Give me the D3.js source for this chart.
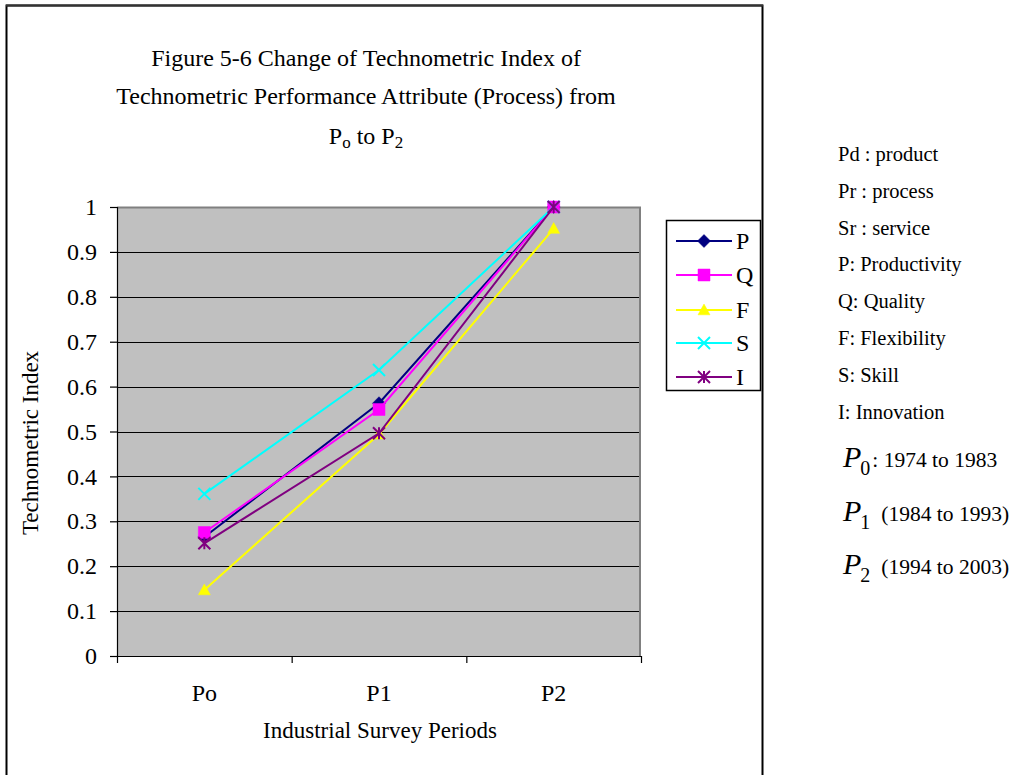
<!DOCTYPE html>
<html>
<head>
<meta charset="utf-8">
<script src="https://cdn.jsdelivr.net/npm/d3@7"></script>
<style>
  html, body { margin: 0; padding: 0; background: #fff; }
  svg { display: block; }
  text { font-family: "Liberation Serif", "DejaVu Serif", serif; fill: #000; }
</style>
</head>
<body>
<svg id="chart" width="1018" height="775"></svg>
<script>
// Survey periods and technometric index per attribute
const periods = ["Po", "P1", "P2"];
const productivity = [0.265, 0.563, 1.0];
const quality      = [0.275, 0.549, 1.0];
const flexibility  = [0.147, 0.494, 0.952];
const skill        = [0.361, 0.637, 1.0];
const innovation   = [0.251, 0.496, 1.0];
const yTicks = [0, 0.1, 0.2, 0.3, 0.4, 0.5, 0.6, 0.7, 0.8, 0.9, 1];

const series = [
  { key: "P", values: productivity, color: "#000080", marker: "diamond" },
  { key: "Q", values: quality,      color: "#ff00ff", marker: "square" },
  { key: "F", values: flexibility,  color: "#ffff00", marker: "triangle" },
  { key: "S", values: skill,        color: "#00ffff", marker: "cross" },
  { key: "I", values: innovation,   color: "#800080", marker: "star" }
];

const notes = ["Pd : product", "Pr : process", "Sr : service", "P: Productivity",
               "Q: Quality", "F: Flexibility", "S: Skill", "I: Innovation"];
const periodNotes = [
  { sub: "0", text: ": 1974 to 1983", gap: 2 },
  { sub: "1", text: "(1984 to 1993)", gap: 11 },
  { sub: "2", text: "(1994 to 2003)", gap: 11 }
];

const svg = d3.select("#chart");

// Outer frame of the chart object
svg.append("path")
  .attr("d", "M6.5,780 V5.5 H762.5 V780")
  .attr("fill", "none").attr("stroke", "#000").attr("stroke-width", 2);
svg.append("line").attr("x1", 6).attr("x2", 763).attr("y1", 5.5).attr("y2", 5.5)
  .attr("stroke", "#333").attr("stroke-width", 2);

const plot = { left: 117, right: 641, top: 207, bottom: 656 };

const x = d3.scaleBand().domain(periods).range([plot.left, plot.right]).paddingInner(0).paddingOuter(0);
const y = d3.scaleLinear().domain([0, 1]).range([plot.bottom, plot.top]);

// Plot background
svg.append("rect")
  .attr("x", plot.left).attr("y", plot.top)
  .attr("width", plot.right - plot.left).attr("height", plot.bottom - plot.top)
  .attr("fill", "#c0c0c0");
svg.append("path")
  .attr("d", `M${plot.left},${plot.top + 0.5} H${plot.right - 1} V${plot.bottom}`)
  .attr("fill", "none").attr("stroke", "#808080").attr("stroke-width", 2);

// Horizontal gridlines
svg.append("g").selectAll("line")
  .data(yTicks.filter(t => t > 0 && t < 1))
  .join("line")
  .attr("x1", plot.left).attr("x2", plot.right - 2)
  .attr("y1", d => Math.round(y(d)) + 0.5).attr("y2", d => Math.round(y(d)) + 0.5)
  .attr("stroke", "#000").attr("stroke-width", 1.2);

// Y axis
const yAxis = svg.append("g")
  .attr("transform", `translate(${plot.left},0)`)
  .call(d3.axisLeft(y).tickValues(yTicks).tickSize(7).tickPadding(13)
    .tickFormat(d => d === 0 || d === 1 ? String(d) : d3.format(".1f")(d)));
yAxis.select(".domain").attr("stroke", "#000").attr("stroke-width", 1.2)
  .attr("d", `M-7,${plot.top}.5H0.5V${plot.bottom}.5H-7`);
yAxis.selectAll(".tick line").attr("stroke", "#000").attr("stroke-width", 1.2);
yAxis.selectAll(".tick text")
  .style("font-family", '"Liberation Serif", serif')
  .style("font-size", "24px").attr("fill", "#000");

// X axis with ticks on the category boundaries
const xAxisG = svg.append("g").attr("transform", `translate(0,${plot.bottom})`);
xAxisG.append("line")
  .attr("x1", plot.left - 7).attr("x2", plot.right)
  .attr("y1", 0.5).attr("y2", 0.5)
  .attr("stroke", "#000").attr("stroke-width", 1.2);
const bounds = periods.map(p => x(p)).concat([x(periods[periods.length - 1]) + x.bandwidth()]);
xAxisG.selectAll("line.tk").data(bounds).join("line")
  .attr("class", "tk")
  .attr("x1", d => d + 0.5).attr("x2", d => d + 0.5)
  .attr("y1", 0).attr("y2", 7)
  .attr("stroke", "#000").attr("stroke-width", 1.2);
xAxisG.selectAll("text").data(periods).join("text")
  .attr("x", d => x(d) + x.bandwidth() / 2)
  .attr("y", 45)
  .attr("text-anchor", "middle")
  .style("font-size", "24px")
  .text(d => d);

// Axis titles
svg.append("text")
  .attr("x", 380).attr("y", 738)
  .attr("text-anchor", "middle")
  .style("font-size", "23px")
  .text("Industrial Survey Periods");
svg.append("text")
  .attr("transform", "translate(38,443) rotate(-90)")
  .attr("text-anchor", "middle")
  .style("font-size", "23px")
  .text("Technometric Index");

// Title
const title = svg.append("text").attr("text-anchor", "middle").style("font-size", "24px");
title.append("tspan").attr("x", 366).attr("y", 66).text("Figure 5-6 Change of Technometric Index of");
title.append("tspan").attr("x", 366).attr("y", 104).text("Technometric Performance Attribute (Process) from");
const t3 = title.append("tspan").attr("x", 366).attr("y", 144);
t3.append("tspan").text("P");
t3.append("tspan").attr("dy", 4).style("font-size", "17px").text("o");
t3.append("tspan").attr("dy", -4).text(" to P");
t3.append("tspan").attr("dy", 4).style("font-size", "17px").text("2");

// Marker shapes
function markerPath(type, s) {
  const h = s / 2;
  switch (type) {
    case "diamond": return `M0,${-h} L${h},0 L0,${h} L${-h},0 Z`;
    case "square": return `M${-h},${-h} H${h} V${h} H${-h} Z`;
    case "triangle": return `M0,${-h} L${h},${h * 0.8} L${-h},${h * 0.8} Z`;
    case "cross": return `M${-h},${-h} L${h},${h} M${h},${-h} L${-h},${h}`;
    case "star": return `M${-h},${-h} L${h},${h} M${h},${-h} L${-h},${h} M0,${-h} V${h}`;
  }
}
function drawMarker(g, type, color) {
  const filled = type === "diamond" || type === "square" || type === "triangle";
  g.append("path")
    .attr("d", markerPath(type, type === "diamond" ? 13 : 12))
    .attr("fill", filled ? color : "none")
    .attr("stroke", color)
    .attr("stroke-width", filled ? 0.5 : 2);
}

const cx = d => x(d) + x.bandwidth() / 2;
const line = d3.line().x(d => cx(d.p)).y(d => y(d.v));

series.forEach(s => {
  const pts = periods.map((p, i) => ({ p, v: s.values[i] }));
  const g = svg.append("g");
  g.append("path").datum(pts)
    .attr("d", line)
    .attr("fill", "none")
    .attr("stroke", s.color)
    .attr("stroke-width", 2);
  pts.forEach(pt => {
    const m = g.append("g").attr("transform", `translate(${cx(pt.p)},${y(pt.v)})`);
    drawMarker(m, s.marker, s.color);
  });
});

// Legend
const lg = svg.append("g");
lg.append("rect")
  .attr("x", 666.5).attr("y", 220.5).attr("width", 94).attr("height", 170)
  .attr("fill", "#fff").attr("stroke", "#000").attr("stroke-width", 1.5);
const legendY = [241, 275, 310, 343, 377];
series.forEach((s, i) => {
  const row = lg.append("g").attr("transform", `translate(0,${legendY[i]})`);
  row.append("line").attr("x1", 676).attr("x2", 732).attr("y1", 0).attr("y2", 0)
    .attr("stroke", s.color).attr("stroke-width", 2);
  const m = row.append("g").attr("transform", "translate(704,0)");
  drawMarker(m, s.marker, s.color);
  row.append("text").attr("x", 736).attr("y", 8).style("font-size", "24px").text(s.key);
});

// Abbreviation notes on the right
const ng = svg.append("g");
notes.forEach((n, i) => {
  ng.append("text").attr("x", 838).attr("y", 161 + i * 36.8)
    .style("font-size", "20.5px").text(n);
});
periodNotes.forEach((pn, i) => {
  const yy = 467 + i * 53.5;
  const t = ng.append("text").attr("x", 843).attr("y", yy);
  t.append("tspan").style("font-size", "30px").style("font-style", "italic").text("P");
  t.append("tspan").attr("dy", 8).attr("dx", -1).style("font-size", "20px").text(pn.sub);
  t.append("tspan").attr("dy", -8).attr("dx", pn.gap).style("font-size", "21.5px").text(pn.text);
});
</script>
</body>
</html>
